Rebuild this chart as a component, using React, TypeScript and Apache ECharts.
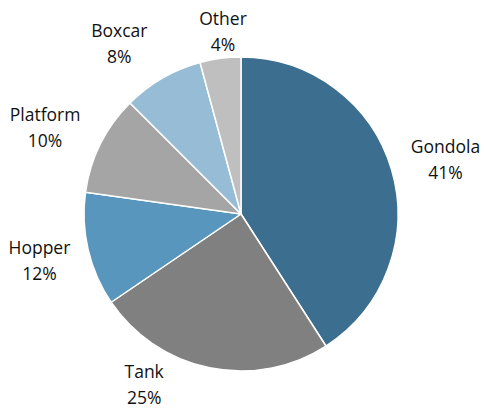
import React, { useEffect, useRef } from "react";
import * as echarts from "echarts";

const categories = ["Gondola", "Tank", "Hopper", "Platform", "Boxcar", "Other"];
const shares = [40.9, 24.6, 11.7, 10.3, 8.3, 4.2];
const colors = ["#3B6E8F", "#808080", "#5896BD", "#A5A5A5", "#97BCD6", "#BFBFBF"];
// small per-label nudges (px) away from the automatic outside position
const labelNudgeX = [5, -57, 0, -8, -18, 8];
const labelNudgeY = [4, -25, -1, 7, 8, 13];

const CX = 241;
const CY = 214;
const R = 157;
const GAP = 10;

export default function App() {
  const ref = useRef<HTMLDivElement>(null);
  useEffect(() => {
    document.body.style.margin = "0";
    if (!ref.current) return;
    const chart = echarts.init(ref.current, null, { renderer: "svg" });
    const total = shares.reduce((a, b) => a + b, 0);
    const starts: number[] = [];
    let acc = 0;
    shares.forEach((v) => {
      starts.push(acc);
      acc += v;
    });
    chart.setOption({
      animation: false,
      backgroundColor: "#ffffff",
      series: [
        {
          type: "pie",
          center: [CX, CY],
          radius: [0, R],
          startAngle: 90,
          clockwise: true,
          data: categories.map((name, i) => ({
            name,
            value: shares[i],
            itemStyle: { color: colors[i] },
          })),
          itemStyle: { borderColor: "#ffffff", borderWidth: 1.5 },
          label: {
            show: true,
            position: "outside",
            formatter: (p: any) => `${p.name}\n${Math.round(p.percent)}%`,
            fontFamily: "Open Sans",
            fontSize: 17.5,
            lineHeight: 26,
            color: "#111111",
            align: "center",
            overflow: "none",
            width: 120,
          },
          labelLine: { show: false },
          emphasis: { disabled: true },
          labelLayout: (params: any) => {
            const i = params.dataIndex;
            const mid = ((starts[i] + shares[i] / 2) / total) * 2 * Math.PI;
            const sx = Math.sin(mid);
            const sy = -Math.cos(mid);
            const w = params.labelRect.width / 2;
            const h = params.labelRect.height / 2;
            const d = R + GAP + Math.abs(sx) * Math.min(w, 35) + Math.abs(sy) * h;
            return {
              x: CX + sx * d + labelNudgeX[i],
              y: CY + sy * d + labelNudgeY[i],
              align: "center",
              verticalAlign: "middle",
            };
          },
        },
      ],
    });
    return () => chart.dispose();
  }, []);
  return <div ref={ref} style={{ width: 484, height: 408 }} />;
}
